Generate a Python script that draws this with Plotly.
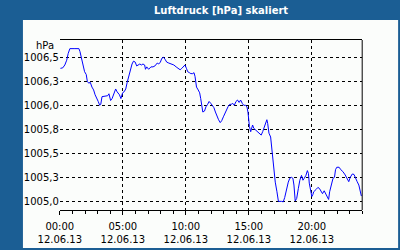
import plotly.graph_objects as go
import pandas as pd

TITLE = "Luftdruck [hPa] skaliert"
UNIT = "hPa"
DAY = "2013-06-12"

minutes = [3, 14, 24, 33, 40, 48, 68, 91, 96, 104,
           111, 118, 126, 131, 138, 145, 153, 161, 168, 176,
           183, 190, 195, 201, 216, 228, 234, 242, 249, 258,
           266, 273, 284, 291, 299, 306, 314, 321, 329, 336,
           344, 351, 359, 366, 374, 381, 389, 396, 404, 408,
           414, 423, 434, 444, 453, 464, 471, 479, 486, 494,
           501, 509, 519, 531, 543, 554, 564, 573, 581, 588,
           596, 603, 609, 617, 624, 633, 639, 644, 647, 651,
           659, 666, 671, 677, 681, 689, 696, 704, 711, 719,
           726, 734, 741, 749, 756, 764, 771, 779, 786, 794,
           801, 809, 816, 824, 831, 839, 846, 854, 861, 869,
           876, 884, 891, 896, 899, 903, 909, 914, 918, 924,
           933, 944, 951, 959, 966, 974, 981, 986, 990, 996,
           1004, 1011, 1019, 1026, 1034, 1041, 1056, 1064, 1071, 1080,
           1088, 1095, 1103, 1110, 1115, 1121, 1128, 1136, 1143, 1151,
           1158, 1164, 1172, 1179, 1184, 1188, 1194, 1200, 1205, 1209,
           1221, 1229, 1236, 1244, 1251, 1259, 1266, 1274, 1280, 1285,
           1293, 1301, 1308, 1313, 1319, 1330, 1338, 1348, 1359, 1368,
           1376, 1383, 1393, 1401, 1409, 1416, 1424, 1431, 1436]

pressure = [1006.385, 1006.39, 1006.42, 1006.47, 1006.54, 1006.59, 1006.59, 1006.59, 1006.56, 1006.49,
            1006.42, 1006.35, 1006.32, 1006.25, 1006.23, 1006.24, 1006.19, 1006.16, 1006.11, 1006.08,
            1006.04, 1006.00, 1006.01, 1006.09, 1006.10, 1006.10, 1006.12, 1006.05, 1006.07, 1006.13,
            1006.17, 1006.14, 1006.11, 1006.07, 1006.13, 1006.14, 1006.17, 1006.24, 1006.31, 1006.37,
            1006.43, 1006.46, 1006.45, 1006.41, 1006.42, 1006.43, 1006.42, 1006.43, 1006.42, 1006.375,
            1006.40, 1006.375, 1006.40, 1006.40, 1006.41, 1006.44, 1006.43, 1006.45, 1006.49, 1006.50,
            1006.48, 1006.45, 1006.44, 1006.43, 1006.42, 1006.40, 1006.385, 1006.37, 1006.385, 1006.40,
            1006.42, 1006.385, 1006.35, 1006.34, 1006.33, 1006.33, 1006.34, 1006.30, 1006.25, 1006.19,
            1006.16, 1006.13, 1006.07, 1006.00, 1005.93, 1005.94, 1005.985, 1006.01, 1006.04, 1006.02,
            1006.00, 1005.975, 1005.93, 1005.88, 1005.85, 1005.82, 1005.84, 1005.88, 1005.92, 1005.95,
            1005.985, 1006.01, 1006.01, 1006.02, 1006.00, 1006.04, 1006.055, 1006.03, 1006.055, 1006.02,
            1006.00, 1006.00, 1005.985, 1005.93, 1005.86, 1005.78, 1005.725, 1005.76, 1005.795, 1005.76,
            1005.74, 1005.725, 1005.71, 1005.69, 1005.725, 1005.78, 1005.83, 1005.85, 1005.81, 1005.71,
            1005.67, 1005.52, 1005.34, 1005.20, 1005.10, 1005.00, 1005.00, 1004.995, 1005.04, 1005.135,
            1005.20, 1005.24, 1005.25, 1005.24, 1005.17, 1005.005, 1005.03, 1005.135, 1005.22, 1005.27,
            1005.22, 1005.24, 1005.27, 1005.32, 1005.29, 1005.19, 1005.10, 1005.05, 1005.07, 1005.10,
            1005.125, 1005.145, 1005.135, 1005.10, 1005.08, 1005.11, 1005.08, 1005.05, 1005.02, 1005.10,
            1005.19, 1005.24, 1005.25, 1005.33, 1005.355, 1005.355, 1005.33, 1005.31, 1005.275, 1005.24,
            1005.205, 1005.25, 1005.285, 1005.28, 1005.23, 1005.205, 1005.17, 1005.09, 1005.055]

x_tick_hours = [0, 5, 10, 15, 20]
x_tick_text = ["00:00<br>12.06.13", "05:00<br>12.06.13", "10:00<br>12.06.13",
               "15:00<br>12.06.13", "20:00<br>12.06.13"]
y_tick_vals = [1005.0, 1005.25, 1005.5, 1005.75, 1006.0, 1006.25, 1006.5]
y_tick_text = ["1005,0", "1005,3", "1005,5", "1005,8", "1006,0", "1006,3", "1006,5"]

BLUE = "#1b5e94"
BG = "#fbfdfb"
FONT = "DejaVu Sans"
W, H = 400, 250

base = pd.Timestamp(DAY)
xs = base + pd.to_timedelta(minutes, unit="min")
xt = [base + pd.Timedelta(hours=h) for h in x_tick_hours]

fig = go.Figure()
fig.add_trace(go.Scatter(x=xs, y=pressure, mode="lines",
                         line=dict(color="#0000ff", width=1), showlegend=False))

def px(v):
    return v / W

def py(v):
    return 1 - v / H

fig.update_layout(
    width=W, height=H,
    margin=dict(l=0, r=0, t=0, b=0),
    paper_bgcolor=BLUE,
    plot_bgcolor="rgba(0,0,0,0)",
    font=dict(family=FONT, size=10, color="black"),
    xaxis=dict(
        domain=[px(40), px(360)],
        type="date",
        range=[base, base + pd.Timedelta(hours=24)],
        tickmode="array", tickvals=xt, ticktext=x_tick_text,
        ticks="outside", ticklen=4, tickcolor="black",
        ticklabelstandoff=3,
        showgrid=True, gridcolor="black", gridwidth=1, griddash="3px,3px",
        showline=True, linecolor="black", linewidth=1, mirror=True,
        zeroline=False,
        minor=dict(ticks="outside", ticklen=3, tickcolor="black",
                   dtick=3600000, tick0=base, showgrid=False),
        tickfont=dict(family=FONT, size=10, color="black"),
    ),
    yaxis=dict(
        domain=[py(210), py(40)],
        range=[1004.91, 1006.68],
        tickmode="array", tickvals=y_tick_vals, ticktext=y_tick_text,
        ticks="", showgrid=True, gridcolor="black", gridwidth=1, griddash="3px,3px",
        showline=False, zeroline=False,
        tickfont=dict(family=FONT, size=10, color="black"),
    ),
    shapes=[
        dict(type="rect", xref="paper", yref="paper", layer="below",
             x0=px(1), x1=px(398), y0=py(248), y1=py(20),
             fillcolor=BG, line=dict(width=0)),
        dict(type="line", xref="x domain", yref="y domain", layer="above",
             x0=1, x1=1, y0=0, y1=1, line=dict(color="black", width=1)),
    ],
    annotations=[
        dict(text="<b>" + TITLE + "</b>", xref="paper", yref="paper",
             x=px(211), y=py(10), xanchor="center", yanchor="middle",
             showarrow=False, font=dict(family=FONT, size=10, color="white")),
        dict(text=UNIT, xref="paper", yref="paper",
             x=px(36), y=py(46), xanchor="right", yanchor="middle",
             showarrow=False, font=dict(family=FONT, size=10, color="black")),
    ],
)

fig.write_html("out.html", config={"displayModeBar": False})
